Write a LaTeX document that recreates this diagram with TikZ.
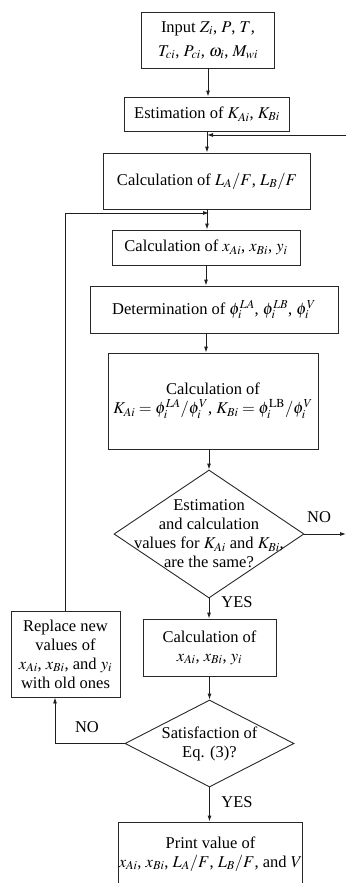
\documentclass[tikz,border=0pt]{standalone}
\usepackage{mathptmx}
\usepackage{fontspec}
\setmainfont{Liberation Serif}
\usetikzlibrary{shapes.geometric,arrows.meta}

\newcommand{\flowfont}{\fontsize{16.5}{19}\selectfont}
\tikzset{
  box/.style={draw={rgb,255:red,40;green,40;blue,40},line width=0.9pt,rectangle,align=center,inner sep=0pt,font=\flowfont},
  decision/.style={draw={rgb,255:red,40;green,40;blue,40},line width=0.9pt,diamond,inner sep=0pt},
  lbl/.style={align=center,font=\flowfont,inner sep=0pt},
  arr/.style={draw={rgb,255:red,30;green,30;blue,30},line width=0.9pt,-{Latex[length=6pt,width=4pt]}},
}

\begin{document}
\begin{tikzpicture}[x=1pt,y=1pt,yscale=-1,xscale=1]
\useasboundingbox (0,0) rectangle (346,883);

%Shape: Rectangle
\node [box,minimum width=133pt,minimum height=56pt] (input) at (208,40) {Input $Z_i$, $P$, $T$,\\[5pt] $T_{ci}$, $P_{ci}$, $\omega_i$, $M_{wi}$};
%Shape: Rectangle
\node [box,minimum width=165pt,minimum height=34pt] (est) at (207,114) {Estimation of $K_{Ai}$, $K_{Bi}$};
%Shape: Rectangle
\node [box,minimum width=207pt,minimum height=56pt] (calcL) at (207,181) {Calculation of $L_A/F$, $L_B/F$};
%Shape: Rectangle
\node [box,minimum width=188pt,minimum height=35pt] (calcx) at (206,247.5) {Calculation of $x_{Ai}$, $x_{Bi}$, $y_i$};
%Shape: Rectangle
\node [box,minimum width=248pt,minimum height=47pt] (det) at (214,309.5) {Determination of $\phi_i^{LA}$, $\phi_i^{LB}$, $\phi_i^{V}$};
%Shape: Rectangle
\node [box,minimum width=210pt,minimum height=96pt] (calcK) at (213,401) {Calculation of\\ $K_{Ai}=\phi_i^{LA}/\phi_i^{V}$, $K_{Bi}=\phi_i^{\mathrm{LB}}/\phi_i^{V}$};
%Shape: Diamond
\node [decision,minimum width=190pt,minimum height=128pt,
  label={[lbl]center:{Estimation\\ and calculation\\ values for $K_{Ai}$ and $K_{Bi}$,\\ are the same?}}] (same) at (209,534) {};
%Shape: Rectangle
\node [box,minimum width=133pt,minimum height=57pt] (calcxx) at (209.5,647.5) {Calculation of\\ $x_{Ai}$, $x_{Bi}$, $y_i$};
%Shape: Rectangle
\node [box,minimum width=109pt,minimum height=86pt] (replace) at (65.5,654) {Replace new\\ values of\\ $x_{Ai}$, $x_{Bi}$, and $y_i$\\ with old ones};
%Shape: Diamond
\node [decision,minimum width=169pt,minimum height=87pt,
  label={[lbl]center:{Satisfaction of\\ Eq. (3)?}}] (sat) at (209.5,743.5) {};
%Shape: Rectangle
\node [box,minimum width=183pt,minimum height=64pt] (print) at (210.5,854) {Print value of\\ $x_{Ai}$, $x_{Bi}$, $L_A/F$, $L_B/F$, and $V$};

\coordinate (loopR) at (346,135);
\coordinate (loopL) at (209,213);
\coordinate (exitR) at (346,534);

%Straight Lines
\draw [arr] (input.south) -- (input.south |- est.north);
\draw [arr] (est.south) -- (est.south |- calcL.north);
\draw [arr] (loopR) -- (loopR -| est.south);
\draw [arr] (calcL.south) -- (calcL.south |- calcx.north);
\draw [arr] (replace.north) -- (replace.north |- loopL) -- (loopL);
\draw [arr] (calcx.south) -- (calcx.south |- det.north);
\draw [arr] (calcx.south |- det.south) -- (calcx.south |- calcK.north);
\draw [arr] (same.north |- calcK.south) -- (same.north);
\draw [arr] (same.east) -- (exitR);
\draw [arr] (same.south) -- (same.south |- calcxx.north);
\draw [arr] (calcxx.south) -- (calcxx.south |- sat.north);
\draw [arr] (sat.west) -| ([xshift=-10.5pt]replace.south);
\draw [arr] (sat.south) -- (sat.south |- print.north);

% Text Node
\node [lbl] (yes1) at (237,602) {YES};
% Text Node
\node [lbl] (yes2) at (237,802) {YES};
% Text Node
\node [lbl] (no1) at (319,517) {NO};
% Text Node
\node [lbl] (no2) at (87,727) {NO};

\end{tikzpicture}
\end{document}
